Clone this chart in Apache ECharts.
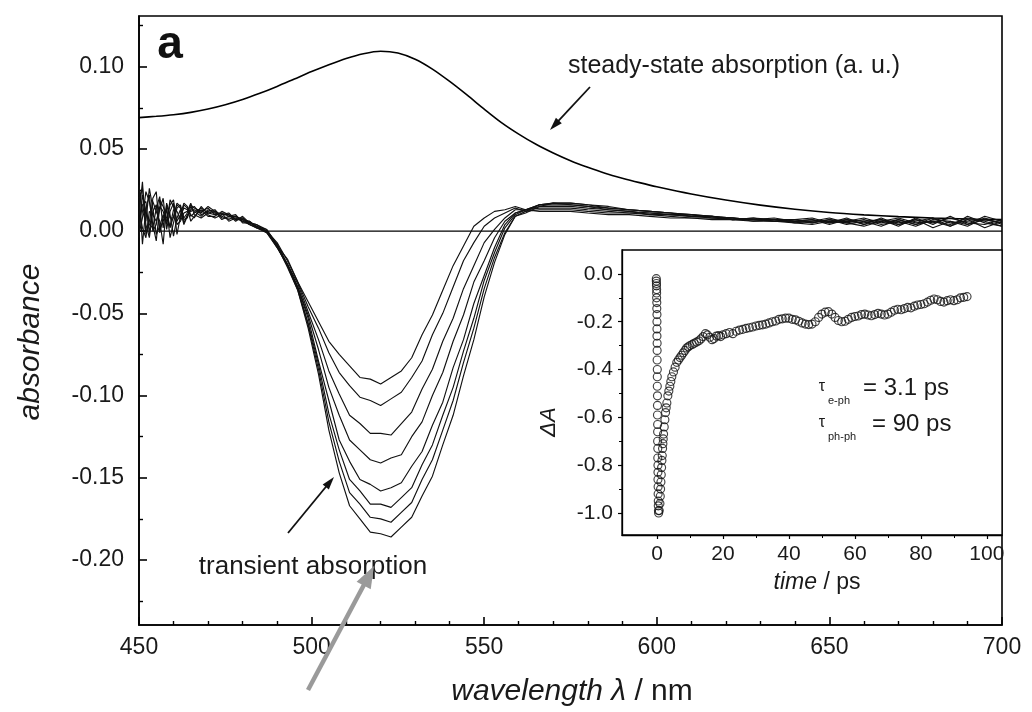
<!DOCTYPE html>
<html><head><meta charset="utf-8">
<script src="https://cdn.jsdelivr.net/npm/echarts@6/dist/echarts.min.js"></script>
<style>html,body{margin:0;padding:0;background:#fff}#c{width:1032px;height:712px}</style>
</head><body><div id="c"></div>
<script>
// ---------- data ----------
const wavelengths = [450,451,452,453,454,455,456,457,458,459,460,461,462,463,464,465,466,
  468,470,472,474,476,478,480,482,484,487,
  490,493,496,499,502,505,508,511,514,517,520,523,526,529,532,535,538,541,544,547,550,553,556,559,
  562,566,570,575,580,586,592,598,604,610,616,622,628,634,640,645,650,655,660,665,670,675,680,685,690,695,700];

const transient1 = [0.020,0.026,0.004,-0.004,0.012,0.016,0.001,0.006,0.013,0.002,0.009,0.017,0.015,0.008,0.011,0.016,0.014,
  0.012,0.014,0.010,0.011,0.009,0.009,0.007,0.006,0.003, 0.000,
  -0.007,-0.018,-0.031,-0.043,-0.055,-0.067,-0.075,-0.082,-0.089,-0.090,-0.093,-0.089,-0.085,-0.077,-0.063,-0.051,-0.036,-0.021,-0.009,0.003,0.008,0.012,0.013,0.015,
  0.013,0.012,0.012,0.012,0.011,0.010,0.010,0.009,0.008,0.008,0.007,0.007,0.006,0.006,0.005,0.004,0.006,0.005,0.003,0.006,0.004,0.007,0.002,0.006,0.003,0.008,0.004];
const transient2 = [-0.002,0.008,0.024,0.018,0.004,-0.006,0.015,0.012,0.004,0.019,0.015,0.006,0.010,0.017,0.015,0.009,0.011,
  0.014,0.011,0.012,0.010,0.011,0.007,0.008,0.005,0.004, 0.001,
  -0.009,-0.017,-0.031,-0.046,-0.059,-0.074,-0.086,-0.094,-0.101,-0.103,-0.106,-0.102,-0.098,-0.089,-0.079,-0.063,-0.050,-0.034,-0.018,-0.007,0.003,0.008,0.011,0.014,
  0.012,0.013,0.013,0.013,0.012,0.011,0.011,0.010,0.009,0.008,0.008,0.007,0.007,0.006,0.006,0.007,0.004,0.007,0.006,0.003,0.007,0.004,0.008,0.003,0.007,0.002,0.006];
const transient3 = [0.010,0.030,-0.002,0.006,0.018,0.012,0.006,-0.008,0.017,0.010,-0.003,0.008,0.013,0.004,0.009,0.013,0.015,
  0.010,0.012,0.013,0.008,0.008,0.008,0.006,0.004,0.002, 0.000,
  -0.008,-0.020,-0.032,-0.049,-0.066,-0.085,-0.099,-0.112,-0.117,-0.123,-0.123,-0.124,-0.117,-0.110,-0.096,-0.084,-0.067,-0.053,-0.035,-0.021,-0.007,0.001,0.008,0.013,
  0.013,0.014,0.014,0.014,0.013,0.012,0.011,0.011,0.010,0.009,0.008,0.008,0.006,0.007,0.007,0.005,0.007,0.004,0.006,0.007,0.003,0.008,0.004,0.009,0.004,0.007,0.005];
const transient4 = [0.026,-0.008,0.014,0.022,0.000,0.004,0.019,0.015,0.008,0.003,0.013,0.012,0.007,0.016,0.014,0.006,0.009,
  0.013,0.009,0.009,0.012,0.010,0.006,0.009,0.005,0.003, -0.001,
  -0.010,-0.020,-0.034,-0.051,-0.072,-0.095,-0.112,-0.127,-0.133,-0.139,-0.141,-0.138,-0.136,-0.125,-0.116,-0.100,-0.086,-0.067,-0.051,-0.031,-0.018,-0.004,0.006,0.011,
  0.013,0.015,0.015,0.015,0.014,0.013,0.012,0.010,0.010,0.009,0.009,0.007,0.008,0.006,0.006,0.007,0.005,0.008,0.004,0.006,0.008,0.005,0.006,0.003,0.009,0.005,0.003];
const transient5 = [0.004,0.016,0.018,-0.002,0.020,0.024,-0.001,0.008,0.014,-0.004,0.005,0.014,0.016,0.007,0.008,0.015,0.012,
  0.009,0.013,0.011,0.009,0.007,0.009,0.006,0.006,0.002, 0.000,
  -0.009,-0.021,-0.034,-0.053,-0.079,-0.103,-0.127,-0.140,-0.151,-0.154,-0.158,-0.156,-0.153,-0.143,-0.134,-0.118,-0.104,-0.083,-0.066,-0.044,-0.027,-0.010,0.004,0.011,
  0.013,0.016,0.016,0.016,0.015,0.013,0.012,0.011,0.010,0.010,0.008,0.008,0.007,0.007,0.005,0.006,0.008,0.005,0.007,0.004,0.006,0.003,0.007,0.006,0.004,0.009,0.006];
const transient6 = [0.014,0.002,-0.004,0.012,0.010,0.006,0.013,0.020,0.001,0.012,0.017,-0.002,0.009,0.014,0.013,0.010,0.008,
  0.015,0.010,0.008,0.010,0.010,0.007,0.007,0.004,0.003, 0.001,
  -0.008,-0.021,-0.035,-0.056,-0.081,-0.111,-0.133,-0.151,-0.158,-0.166,-0.166,-0.168,-0.162,-0.156,-0.142,-0.130,-0.112,-0.095,-0.073,-0.053,-0.030,-0.013,0.002,0.010,
  0.013,0.016,0.017,0.016,0.015,0.014,0.013,0.012,0.011,0.009,0.009,0.008,0.007,0.006,0.007,0.008,0.005,0.006,0.005,0.007,0.005,0.007,0.005,0.008,0.005,0.004,0.007];
const transient7 = [-0.004,0.022,0.012,0.004,0.002,0.014,0.021,0.002,0.016,0.008,0.008,0.016,0.014,0.005,0.010,0.012,0.013,
  0.011,0.015,0.012,0.007,0.009,0.010,0.005,0.005,0.004, 0.000,
  -0.010,-0.021,-0.036,-0.057,-0.084,-0.116,-0.140,-0.159,-0.166,-0.174,-0.175,-0.177,-0.171,-0.165,-0.151,-0.139,-0.121,-0.103,-0.080,-0.059,-0.035,-0.016,-0.001,0.009,
  0.012,0.016,0.017,0.017,0.016,0.014,0.013,0.012,0.011,0.010,0.009,0.007,0.008,0.007,0.006,0.005,0.007,0.006,0.008,0.005,0.007,0.004,0.006,0.004,0.008,0.006,0.003];
const transient8 = [0.028,0.012,0.006,0.026,0.014,-0.002,0.003,0.010,0.006,0.016,0.019,0.004,0.006,0.011,0.012,0.017,0.010,
  0.008,0.011,0.010,0.011,0.006,0.008,0.008,0.004,0.002, -0.001,
  -0.009,-0.022,-0.036,-0.059,-0.087,-0.121,-0.147,-0.167,-0.175,-0.183,-0.184,-0.186,-0.180,-0.174,-0.161,-0.149,-0.130,-0.112,-0.088,-0.066,-0.040,-0.019,-0.002,0.009,
  0.011,0.015,0.017,0.017,0.016,0.015,0.013,0.012,0.011,0.010,0.009,0.008,0.007,0.008,0.006,0.006,0.006,0.007,0.004,0.008,0.004,0.006,0.008,0.005,0.006,0.007,0.005];

const steadyWl  = [450,455,460,465,470,475,480,485,490,495,500,505,510,515,520,525,530,535,540,545,550,555,560,565,570,575,580,585,590,595,600,610,620,630,640,650,660,670,680,690,700];
const steadyAbs = [0.0690,0.0698,0.0708,0.0722,0.0742,0.0768,0.0800,0.0838,0.0880,0.0925,0.0970,0.1012,0.1050,0.1079,0.1094,0.1083,0.1045,0.0985,0.0910,0.0828,0.0742,0.0660,0.0590,0.0528,0.0475,0.0428,0.0388,0.0352,0.0322,0.0295,0.0270,0.0226,0.0189,0.0158,0.0133,0.0113,0.0099,0.0088,0.0080,0.0074,0.0070];

const zeroWl = [450, 700];
const zeroAbs = [0, 0];

const insetTime = [-0.2,-0.2,-0.15,-0.15,-0.1,-0.1,-0.1,-0.05,-0.05,0,0,0,0,0.05,0.05,0.05,0.1,0.1,0.1,0.15,0.15,0.15,0.2,0.2,0.2,0.25,0.25,0.3,0.3,0.3,0.35,0.35,0.4,0.4,0.45,0.5,
  0.7,0.9,1.0,1.1,1.2,1.3,1.4,1.5,1.6,1.7,1.8,1.9,2.0,2.2,2.4,2.6,2.8,3.0,3.3,3.6,3.9,4.2,4.5,5.0,5.5,6.0,6.5,7.0,7.5,8.0,8.5,9.0,9.5,
  10,10.7,11.3,12,12.7,13.3,14,14.7,15.3,16,16.7,17.3,18,18.7,19.3,
  20,21,22,23,24,25,26,27,28,29,30,31,32,33,34,35,36,37,38,39,40,41,42,43,44,45,46,47,48,49,
  50,51,52,53,54,55,56,57,58,59,60,61,62,63,64,65,66,67,68,69,70,71,72,73,74,75,76,77,78,79,
  80,81,82,83,84,85,86,87,88,89,90,91,92,93,94];
const insetDA = [-0.02,-0.03,-0.04,-0.05,-0.065,-0.08,-0.1,-0.12,-0.145,-0.17,-0.2,-0.23,-0.26,-0.29,-0.32,-0.36,-0.4,-0.43,-0.47,-0.51,-0.55,-0.59,-0.63,-0.66,-0.7,-0.73,-0.77,-0.8,-0.83,-0.86,-0.89,-0.92,-0.95,-0.97,-0.99,-1.0,
  -0.99,-0.96,-0.93,-0.90,-0.87,-0.84,-0.81,-0.78,-0.76,-0.73,-0.71,-0.69,-0.67,-0.64,-0.61,-0.58,-0.56,-0.54,-0.51,-0.49,-0.47,-0.45,-0.43,-0.41,-0.39,-0.37,-0.36,-0.35,-0.34,-0.33,-0.32,-0.31,-0.305,
  -0.30,-0.295,-0.29,-0.285,-0.28,-0.272,-0.262,-0.25,-0.255,-0.265,-0.275,-0.27,-0.26,-0.258,-0.262,
  -0.255,-0.25,-0.245,-0.25,-0.24,-0.235,-0.232,-0.228,-0.225,-0.222,-0.218,-0.215,-0.213,-0.21,-0.205,-0.2,-0.197,-0.19,-0.188,-0.185,
  -0.185,-0.19,-0.192,-0.198,-0.205,-0.21,-0.212,-0.21,-0.2,-0.182,-0.168,-0.16,-0.158,-0.168,-0.182,-0.195,-0.2,-0.198,-0.19,-0.182,
  -0.178,-0.176,-0.17,-0.168,-0.172,-0.175,-0.17,-0.165,-0.168,-0.172,-0.168,-0.16,-0.152,-0.148,-0.15,-0.145,-0.14,-0.142,-0.135,-0.13,
  -0.128,-0.125,-0.118,-0.11,-0.105,-0.108,-0.115,-0.118,-0.112,-0.108,-0.112,-0.108,-0.1,-0.098,-0.095];

const yTicks = [-0.20,-0.15,-0.10,-0.05,0.00,0.05,0.10];
const yMinorTicks = [-0.225,-0.175,-0.125,-0.075,-0.025,0.025,0.075,0.125];
const insetXTicks = [0,20,40,60,80,100];
const insetXMinor = [10,30,50,70,90];
const insetYTicks = [0,-0.2,-0.4,-0.6,-0.8,-1.0];
const insetYMinor = [-0.1,-0.3,-0.5,-0.7,-0.9];

// ---------- chart ----------
const FONT = '"Liberation Sans", Arial, Helvetica, sans-serif';
const TXT = '#1a1a1a';
const pairs = (xs, ys) => xs.slice(0, Math.min(xs.length, ys.length)).map((x, i) => [x, ys[i]]);
const transients = [transient1,transient2,transient3,transient4,transient5,transient6,transient7,transient8];

function arrow(x1, y1, x2, y2, color, lw, hl, hw, z) {
  const dx = x2 - x1, dy = y2 - y1, L = Math.hypot(dx, dy), ux = dx / L, uy = dy / L;
  const bx = x2 - ux * hl, by = y2 - uy * hl, px = -uy * hw / 2, py = ux * hw / 2;
  return [
    {type:'line', z, silent:true, shape:{x1, y1, x2:bx + ux, y2:by + uy}, style:{stroke:color, lineWidth:lw}},
    {type:'polygon', z, silent:true, shape:{points:[[x2, y2],[bx + px, by + py],[bx - px, by - py]]}, style:{fill:color}}
  ];
}

const axisLineBlack = {show:true, onZero:false, lineStyle:{color:'#000', width:1.6}};
const hiddenLine = {show:false, onZero:false};
const chart = echarts.init(document.getElementById('c'));
const option = {
  animation:false,
  backgroundColor:'#fff',
  grid:[
    {left:139, right:30, top:16, bottom:87, show:true, borderColor:'#000', borderWidth:1.6, backgroundColor:'transparent'},
    {left:622, right:30, top:250, bottom:177, show:true, borderColor:'#000', borderWidth:1.3, backgroundColor:'#fff'}
  ],
  xAxis:[
    {gridIndex:0, type:'value', position:'bottom', min:450, max:700, interval:50,
     axisLine:axisLineBlack,
     axisTick:{inside:true, length:8, lineStyle:{color:'#000', width:1.6}},
     minorTick:{show:true, splitNumber:5, length:4, lineStyle:{color:'#000', width:1.4}},
     axisLabel:{fontSize:23, color:TXT, margin:11, fontFamily:FONT},
     splitLine:{show:false}, minorSplitLine:{show:false}},
    {gridIndex:1, type:'value', position:'bottom', min:-10.6, max:104.6,
     axisLine:{show:true, onZero:false, lineStyle:{color:'#000', width:1.3}},
     axisTick:{show:true, customValues:insetXTicks, inside:false, length:4, lineStyle:{color:'#000', width:1.2}},
     axisLabel:{customValues:insetXTicks, fontSize:21, color:TXT, margin:9, fontFamily:FONT},
     splitLine:{show:false}},
    {gridIndex:1, type:'value', position:'bottom', min:-10.6, max:104.6,
     axisLine:hiddenLine,
     axisTick:{show:true, customValues:insetXMinor, inside:false, length:3, lineStyle:{color:'#000', width:1}},
     axisLabel:{show:false}, splitLine:{show:false}}
  ],
  yAxis:[
    {gridIndex:0, type:'value', position:'left', min:-0.2395, max:0.1308,
     axisLine:axisLineBlack,
     axisTick:{show:true, customValues:yTicks, inside:true, length:8, lineStyle:{color:'#000', width:1.6}},
     axisLabel:{customValues:yTicks, formatter:v => v.toFixed(2), fontSize:23, color:TXT, margin:15, fontFamily:FONT},
     splitLine:{show:false}},
    {gridIndex:0, type:'value', position:'left', min:-0.2395, max:0.1308,
     axisLine:hiddenLine,
     axisTick:{show:true, customValues:yMinorTicks, inside:true, length:4, lineStyle:{color:'#000', width:1.4}},
     axisLabel:{show:false}, splitLine:{show:false}},
    {gridIndex:1, type:'value', position:'left', min:-1.092, max:0.100,
     axisLine:{show:true, onZero:false, lineStyle:{color:'#000', width:1.3}},
     axisTick:{show:true, customValues:insetYTicks, inside:false, length:4, lineStyle:{color:'#000', width:1.2}},
     axisLabel:{customValues:insetYTicks, formatter:v => v.toFixed(1), fontSize:21, color:TXT, margin:9, fontFamily:FONT},
     splitLine:{show:false}},
    {gridIndex:1, type:'value', position:'left', min:-1.092, max:0.100,
     axisLine:hiddenLine,
     axisTick:{show:true, customValues:insetYMinor, inside:false, length:3, lineStyle:{color:'#000', width:1}},
     axisLabel:{show:false}, splitLine:{show:false}}
  ],
  series:[
    {type:'line', name:'zero', xAxisIndex:0, yAxisIndex:0, data:pairs(zeroWl, zeroAbs), showSymbol:false, symbol:'none',
     lineStyle:{color:'#000', width:1.4}, silent:true},
    {type:'line', name:'steady-state', xAxisIndex:0, yAxisIndex:0, data:pairs(steadyWl, steadyAbs), smooth:0.3, showSymbol:false, symbol:'none',
     lineStyle:{color:'#000', width:1.6}, silent:true},
    ...transients.map((t, k) => ({type:'line', name:'transient' + (k + 1), xAxisIndex:0, yAxisIndex:0,
      data:pairs(wavelengths, t), showSymbol:false, symbol:'none', lineStyle:{color:'#111', width:1.15}, silent:true})),
    {type:'scatter', name:'kinetics', xAxisIndex:1, yAxisIndex:2, data:pairs(insetTime, insetDA), symbol:'circle', symbolSize:8,
     itemStyle:{color:'rgba(0,0,0,0)', borderColor:'#111', borderWidth:1.15}, silent:true}
  ],
  graphic:[
    {type:'text', x:170, y:45, silent:true, style:{text:'a', font:'bold 46px ' + FONT, fill:'#111', align:'center', verticalAlign:'middle'}},
    {type:'text', x:734, y:66, silent:true, style:{text:'steady-state absorption (a. u.)', font:'25px ' + FONT, fill:TXT, align:'center', verticalAlign:'middle'}},
    {type:'text', x:313, y:567, silent:true, style:{text:'transient absorption', font:'26px ' + FONT, fill:TXT, align:'center', verticalAlign:'middle'}},
    {type:'text', x:572, y:692, silent:true, style:{text:'{i|wavelength λ}{n| / nm}', fill:TXT, align:'center', verticalAlign:'middle',
      rich:{i:{font:'italic 30px ' + FONT, fill:TXT}, n:{font:'30px ' + FONT, fill:TXT}}}},
    {type:'text', x:31, y:342, rotation:Math.PI / 2, silent:true, style:{text:'absorbance', font:'italic 30px ' + FONT, fill:TXT, align:'center', verticalAlign:'middle'}},
    {type:'text', x:549, y:422, rotation:Math.PI / 2, silent:true, style:{text:'ΔA', font:'italic 22px ' + FONT, fill:TXT, align:'center', verticalAlign:'middle'}},
    {type:'text', x:817, y:583, silent:true, style:{text:'{i|time}{n| / ps}', fill:TXT, align:'center', verticalAlign:'middle',
      rich:{i:{font:'italic 23px ' + FONT, fill:TXT}, n:{font:'23px ' + FONT, fill:TXT}}}},
    {type:'text', x:822, y:387, silent:true, style:{text:'τ', font:'16px ' + FONT, fill:TXT, align:'center', verticalAlign:'middle'}},
    {type:'text', x:828, y:401, silent:true, style:{text:'e-ph', font:'11px ' + FONT, fill:TXT, align:'left', verticalAlign:'middle'}},
    {type:'text', x:863, y:388, silent:true, style:{text:'= 3.1 ps', font:'24px ' + FONT, fill:TXT, align:'left', verticalAlign:'middle'}},
    {type:'text', x:822, y:423, silent:true, style:{text:'τ', font:'16px ' + FONT, fill:TXT, align:'center', verticalAlign:'middle'}},
    {type:'text', x:828, y:437, silent:true, style:{text:'ph-ph', font:'11px ' + FONT, fill:TXT, align:'left', verticalAlign:'middle'}},
    {type:'text', x:872, y:424, silent:true, style:{text:'= 90 ps', font:'24px ' + FONT, fill:TXT, align:'left', verticalAlign:'middle'}},
    ...arrow(590, 87, 550, 130, '#111', 1.8, 13, 8, 10),
    ...arrow(288, 533, 334, 477, '#111', 1.8, 13, 8, 10),
    ...arrow(308, 690, 374, 566, '#9a9a9a', 4.5, 22, 16, 100)
  ]
};
chart.setOption(option);
</script>
</body></html>
